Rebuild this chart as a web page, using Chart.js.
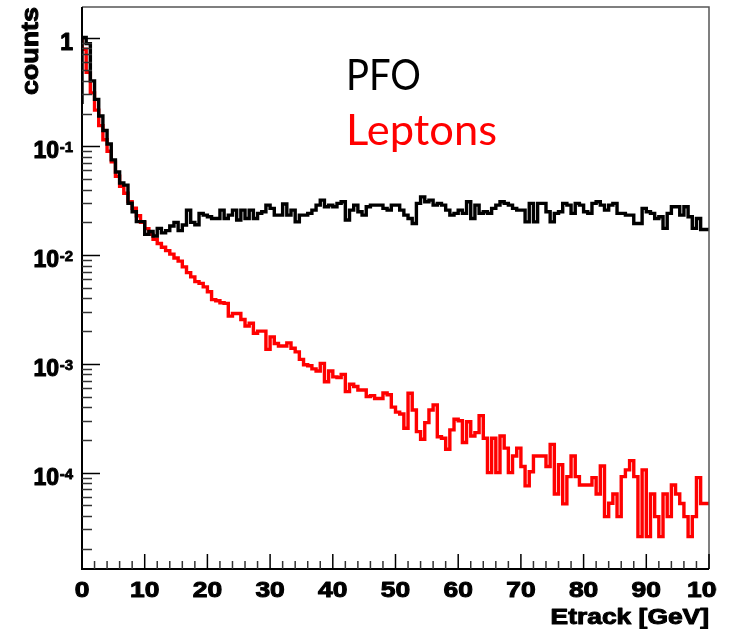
<!DOCTYPE html>
<html><head><meta charset="utf-8">
<script src="https://cdn.jsdelivr.net/npm/chart.js@4/dist/chart.umd.min.js"></script>
<style>html,body{margin:0;padding:0;background:#fff;}#wrap{width:732px;height:629px;position:relative;}</style>
</head><body><div id="wrap"><canvas id="c" width="732" height="629"></canvas></div>
<script>
// ---- data ----
const xRange = [0, 100];
const yRange = [1.3e-5, 1.91];
const pfo = [
0.245,1.0,0.88,0.40,0.27,0.19,0.14,0.105,0.075,0.058,
0.046,0.044,0.030,0.025,0.0203,0.0203,0.0155,0.0165,0.0150,0.0176,
0.0160,0.0168,0.0185,0.0200,0.0168,0.0189,0.0259,0.0200,0.0190,0.0242,
0.0233,0.0225,0.0217,0.0217,0.0259,0.0217,0.0233,0.0259,0.0210,0.0259,
0.0217,0.0259,0.0217,0.0242,0.0250,0.0288,0.0269,0.0233,0.0233,0.0295,
0.0233,0.0259,0.0202,0.0233,0.0233,0.0242,0.0259,0.0288,0.0320,0.0278,
0.0288,0.0278,0.0299,0.0309,0.0210,0.0259,0.0288,0.0250,0.0233,0.0278,
0.0288,0.0288,0.0288,0.0269,0.0259,0.0288,0.0288,0.0259,0.0233,0.0217,
0.0195,0.0299,0.0343,0.0309,0.0320,0.0288,0.0299,0.0288,0.0259,0.0233,
0.0242,0.0259,0.0242,0.0309,0.0217,0.0288,0.0242,0.0250,0.0242,0.0269,
0.0288,0.0309,0.0299,0.0288,0.0269,0.0259,0.0259,0.0202,0.0299,0.0202,
0.0299,0.0299,0.0250,0.0202,0.0242,0.0250,0.0299,0.0288,0.0242,0.0299,
0.0288,0.0250,0.0242,0.0299,0.0309,0.0288,0.0259,0.0288,0.0299,0.0242,
0.0242,0.0233,0.0233,0.0195,0.0195,0.0269,0.0250,0.0242,0.0217,0.0225,
0.0176,0.0242,0.0278,0.0278,0.0233,0.0278,0.0225,0.0176,0.0217,0.0172
];
const leptons = [
1.0,0.78,0.48,0.31,0.215,0.155,0.115,0.09,0.072,0.053,
0.043,0.037,0.031,0.027,0.023,0.020,0.0175,0.0155,0.014,0.0128,
0.0118,0.011,0.0102,0.0094,0.0088,0.0078,0.0069,0.0063,0.0057,0.0055,
0.0051,0.0046,0.0039,0.0038,0.00365,0.0036,0.00275,0.0029,0.0029,0.00256,
0.00223,0.00236,0.00191,0.0020,0.0020,0.00136,0.00177,0.00154,0.00146,0.00146,
0.00156,0.00139,0.00129,0.0011,0.00098,0.00096,0.0009,0.00086,0.00101,0.000685,
0.00086,0.00076,0.00075,0.0008,0.000555,0.00065,0.00062,0.000575,0.000575,0.0005,
0.00051,0.00048,0.00048,0.00054,0.00052,0.0004,0.00036,0.000346,0.000256,0.000536,
0.000377,0.000238,0.000203,0.000288,0.000377,0.00042,0.000214,0.000207,0.000164,0.000247,
0.00031,0.0003,0.000189,0.000294,0.000217,0.000233,0.000334,0.000207,0.0001,0.000207,
0.0001,0.000217,0.000168,0.0001,0.000142,0.000168,0.000114,0.0000755,0.000102,0.000142,
0.000142,0.000142,0.000114,0.000182,0.0000637,0.000118,0.0000516,0.0000918,0.000142,0.0000918,
0.000077,0.000077,0.000077,0.00009,0.0000636,0.000115,0.0000394,0.0000523,0.0000636,0.0000394,
0.0000918,0.000106,0.000129,0.0000918,0.0000258,0.000106,0.0000258,0.0000636,0.0000394,0.0000258,
0.0000636,0.0000394,0.000077,0.0000636,0.000052,0.0000394,0.0000258,0.0000394,0.00009,0.000052
];
const yMajorTicks = [1, 0.1, 0.01, 0.001, 0.0001];
const yTickBase = ['1', '10', '10', '10', '10'];
const yTickExp = ['', '-1', '-2', '-3', '-4'];
const xMajorTicks = [0, 10, 20, 30, 40, 50, 60, 70, 80, 90, 100];
const xTickLabels = ['0','10','20','30','40','50','60','70','80','90','100'];
const seriesNames = ['PFO', 'Leptons'];
const xTitle = 'Etrack [GeV]';
const yTitle = 'counts';

// ---- build histogram step points ----
function histPoints(vals) {
  const w = (xRange[1] - xRange[0]) / vals.length;
  const pts = vals.map((v, i) => ({ x: xRange[0] + i * w, y: v }));
  pts.push({ x: xRange[1], y: vals[vals.length - 1] });
  return pts;
}

const LABEL_FONT = '"Liberation Sans", Arial, sans-serif';

function boldText(ctx, txt, x, y, sw) {
  ctx.lineWidth = sw;
  ctx.lineJoin = 'round';
  ctx.strokeStyle = ctx.fillStyle;
  ctx.strokeText(txt, x, y);
  ctx.fillText(txt, x, y);
}

const rootFrame = {
  id: 'rootFrame',
  afterDatasetsDraw(chart) {
    const { ctx, chartArea: a, scales: { x, y } } = chart;
    ctx.save();
    // top & right frame
    ctx.lineWidth = 1.5; ctx.strokeStyle = '#555';
    ctx.beginPath(); ctx.moveTo(a.left, a.top); ctx.lineTo(a.right, a.top); ctx.lineTo(a.right, a.bottom); ctx.stroke();
    // axes
    ctx.lineWidth = 2; ctx.strokeStyle = '#000';
    ctx.beginPath(); ctx.moveTo(a.left, a.top); ctx.lineTo(a.left, a.bottom); ctx.lineTo(a.right, a.bottom); ctx.stroke();
    // y ticks (major + minor)
    ctx.lineWidth = 1.5;
    for (const major of yMajorTicks.concat([1e-5])) {
      for (let m = 1; m <= 9; m++) {
        const v = major * m;
        if (v < yRange[0] || v > yRange[1]) continue;
        if (m > 1 && major === 1) continue;
        const py = Math.round(y.getPixelForValue(v)) + 0.5;
        const len = m === 1 ? 18 : 10;
        ctx.strokeStyle = m === 1 ? '#000' : '#333';
        ctx.beginPath(); ctx.moveTo(a.left, py); ctx.lineTo(a.left + len, py); ctx.stroke();
      }
    }
    // x ticks
    for (let i = 0; i < xMajorTicks.length; i++) {
      const t = xMajorTicks[i];
      const px = x.getPixelForValue(t);
      ctx.strokeStyle = '#000';
      ctx.lineWidth = 1.5;
      ctx.beginPath(); ctx.moveTo(px, a.bottom); ctx.lineTo(px, a.bottom - 15); ctx.stroke();
      if (i < xMajorTicks.length - 1) {
        const step = (xMajorTicks[i + 1] - t) / 5;
        for (let k = 1; k < 5; k++) {
          const mx = x.getPixelForValue(t + k * step);
          ctx.strokeStyle = '#333';
          ctx.beginPath(); ctx.moveTo(mx, a.bottom); ctx.lineTo(mx, a.bottom - 8); ctx.stroke();
        }
      }
    }
    // y labels
    ctx.fillStyle = '#000';
    ctx.textBaseline = 'alphabetic';
    const rightEdge = a.left - 9;
    yMajorTicks.forEach((v, i) => {
      const py = y.getPixelForValue(v);
      let r = rightEdge;
      if (yTickExp[i]) {
        ctx.font = 'bold 15px ' + LABEL_FONT;
        ctx.textAlign = 'right';
        boldText(ctx, yTickExp[i], r, py + 6, 0.8);
        r -= ctx.measureText(yTickExp[i]).width + 0.5;
      }
      ctx.font = 'bold 23px ' + LABEL_FONT;
      ctx.textAlign = 'right';
      boldText(ctx, yTickBase[i], r, py + 12, 1.1);
    });
    // x labels (clipped at the picture's right edge)
    ctx.save();
    ctx.beginPath(); ctx.rect(0, 0, 717, chart.height); ctx.clip();
    ctx.font = 'bold 22px ' + LABEL_FONT;
    ctx.textAlign = 'center';
    xMajorTicks.forEach((t, i) => {
      const px = x.getPixelForValue(t);
      ctx.save(); ctx.translate(px, a.bottom + 28); ctx.scale(1.2, 1);
      boldText(ctx, xTickLabels[i], 0, 0, 1.0);
      ctx.restore();
    });
    ctx.restore();
    // axis titles
    ctx.save();
    ctx.font = 'bold 22px ' + LABEL_FONT;
    ctx.textAlign = 'right';
    ctx.translate(a.right, a.bottom + 55); ctx.scale(1.2, 1);
    boldText(ctx, xTitle, 0, 0, 1.0);
    ctx.restore();
    ctx.save();
    ctx.font = 'bold 24px ' + LABEL_FONT;
    ctx.textAlign = 'right';
    ctx.translate(38, a.top); ctx.rotate(-Math.PI / 2); ctx.scale(1.12, 1);
    boldText(ctx, yTitle, 0, 0, 1.0);
    ctx.restore();
    // legend-like texts, fitted to their widths in the picture
    ctx.font = '43px Lato, "Open Sans", sans-serif';
    ctx.textAlign = 'left';
    const drawFit = (txt, color, x0, base, targetW) => {
      const w = ctx.measureText(txt).width;
      ctx.save(); ctx.fillStyle = color; ctx.translate(x0, base); ctx.scale(targetW / w, 1);
      ctx.fillText(txt, 0, 0); ctx.restore();
    };
    drawFit(seriesNames[0], '#000', 346, 90, 75);
    drawFit(seriesNames[1], '#ff0000', 346, 145, 151);
    ctx.restore();
  }
};

new Chart(document.getElementById('c'), {
  type: 'line',
  data: {
    datasets: [
      { label: seriesNames[0], data: histPoints(pfo), borderColor: '#000', borderWidth: 3.4, stepped: 'after', pointRadius: 0, fill: false, borderJoinStyle: 'miter' },
      { label: seriesNames[1], data: histPoints(leptons), borderColor: '#ff0000', borderWidth: 3.4, stepped: 'after', pointRadius: 0, fill: false, borderJoinStyle: 'miter' }
    ]
  },
  options: {
    responsive: false,
    animation: false,
    devicePixelRatio: 1,
    layout: { padding: { left: 82, top: 7, right: 23, bottom: 60 } },
    scales: {
      x: { type: 'linear', min: xRange[0], max: xRange[1], display: false },
      y: { type: 'logarithmic', min: yRange[0], max: yRange[1], display: false }
    },
    plugins: { legend: { display: false }, tooltip: { enabled: false } },
    events: []
  },
  plugins: [rootFrame]
});
</script>
</body></html>
